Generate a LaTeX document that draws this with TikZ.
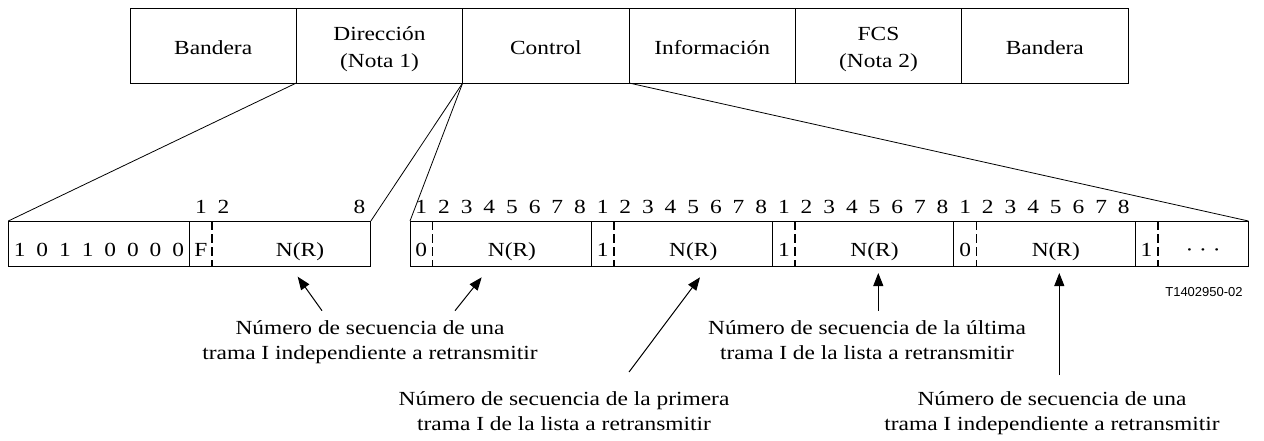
\documentclass[tikz,border=0pt]{standalone}
\usepackage{fontspec}
\setmainfont{Liberation Serif}[FakeStretch=1.17]
\newfontfamily\sanslbl{Liberation Sans}
\usetikzlibrary{arrows.meta}
\newcommand\twoline[3]{{\fontsize{20}{#1}\selectfont\begin{tabular}[t]{@{}c@{}}#2\\#3\end{tabular}}}
\begin{document}
\begin{tikzpicture}[x=1pt,y=-1pt,
  every node/.style={inner sep=0pt,outer sep=0pt,font=\fontsize{20}{25}\selectfont},
  topbox/.style={draw,line width=0.9pt,minimum width=166.33pt,minimum height=75pt},
  blockbox/.style={draw,line width=0.9pt,minimum height=45pt,anchor=north west},
  txt/.style={anchor=base},
  fan/.style={line width=0.8pt},
  solidsep/.style={line width=0.9pt},
  dashsep/.style={line width=1.5pt,dash pattern=on 9pt off 4pt},
  arr/.style={line width=1pt,-{Triangle[length=13pt,width=10pt]}},
  code/.style={anchor=base,font=\sanslbl\fontsize{13}{15}\selectfont}
]
\useasboundingbox (0,0) rectangle (1264,441);

% top frame
\node[topbox] (t1) at (213.17,45.5) {};
\node[topbox] (t2) at (379.50,45.5) {};
\node[topbox] (t3) at (545.83,45.5) {};
\node[topbox] (t4) at (712.17,45.5) {};
\node[topbox] (t5) at (878.50,45.5) {};
\node[topbox] (t6) at (1044.83,45.5) {};
\node[txt] (t1t) at (213.17,55) {Bandera};
\node[txt] (t2t) at (379.50,41) {\twoline{27}{Dirección}{(Nota 1)}};
\node[txt] (t3t) at (545.83,55) {Control};
\node[txt] (t4t) at (712.17,55) {Información};
\node[txt] (t5t) at (878.50,41) {\twoline{27}{FCS}{(Nota 2)}};
\node[txt] (t6t) at (1044.83,55) {Bandera};

% bottom blocks
\node[blockbox,minimum width=362.56pt] (LB) at (8.3,221) {};
\node[blockbox,minimum width=838.42pt] (RB) at (410,221) {};

% fan lines
\draw[fan] (t2.south west) -- (LB.north west);
\draw[fan] (t2.south east) -- (LB.north east);
\draw[fan] (t3.south west) -- (RB.north west);
\draw[fan] (t3.south east) -- (RB.north east);

% left block separators
\draw[solidsep] (189.58,221) -- (189.58,266);
\draw[dashsep] (212.24,221) -- (212.24,266);
% right block separators
\foreach \x in {591.28,772.56,953.84,1135.12}
  \draw[solidsep] (\x,221) -- (\x,266);
\foreach \x in {432.66,613.94,795.22,976.50,1157.78}
  \draw[dashsep] (\x,221) -- (\x,266);

% left block contents
\foreach \t [count=\i from 0] in {1,0,1,1,0,0,0,0}
  \node[txt] (lb\i) at ({19.63+22.66*\i},256) {\t};
\node[txt] (lF) at (200.91,256) {F};
\node[txt] (lNR) at (300,256) {N(R)};
% bit numbers over left block
\node[txt] (ln1) at (200.91,213) {1};
\node[txt] (ln2) at (223.57,213) {2};
\node[txt] (ln8) at (359.53,213) {8};

% right block contents
\node[txt] (r0) at (421.33,256) {0};
\node[txt] (r8) at ({421.33+22.66*8},256) {1};
\node[txt] (r16) at ({421.33+22.66*16},256) {1};
\node[txt] (r24) at ({421.33+22.66*24},256) {0};
\node[txt] (r32) at ({421.33+22.66*32},256) {1};
\node[txt] (rNR1) at ({421.33+22.66*4},256) {N(R)};
\node[txt] (rNR2) at ({421.33+22.66*12},256) {N(R)};
\node[txt] (rNR3) at ({421.33+22.66*20},256) {N(R)};
\node[txt] (rNR4) at ({421.33+22.66*28},256) {N(R)};
\node[txt] (rdots) at ({421.33+22.66*34.5},256) {·\ ·\ ·};
% bit numbers over right block
\foreach \o in {0,1,2,3}
  \foreach \n in {1,...,8}
    \node[txt] (rn\o\n) at ({421.33+22.66*(8*\o+\n-1)},213) {\n};

% code
\node[code] (code) at (1204,296.5) {T1402950-02};

% labels
\node[txt] (L1) at (370,334) {\twoline{25}{Número de secuencia de una}{trama I independiente a retransmitir}};
\node[txt] (L4) at (867,334) {\twoline{25}{Número de secuencia de la última}{trama I de la lista a retransmitir}};
\node[txt] (L3) at (564,405) {\twoline{25}{Número de secuencia de la primera}{trama I de la lista a retransmitir}};
\node[txt] (L5) at (1052,405) {\twoline{25}{Número de secuencia de una}{trama I independiente a retransmitir}};

% arrows
\coordinate (a1s) at (322,310.7);   \coordinate (a1e) at (297.7,276.7);
\coordinate (a2s) at (455,310.7);   \coordinate (a2e) at (481.7,277.3);
\coordinate (a3s) at (629,372);     \coordinate (a3e) at (700,277.3);
\coordinate (a4s) at (878.3,310.7); \coordinate (a4e) at (878.3,273);
\coordinate (a5s) at (1059.3,375);  \coordinate (a5e) at (1059.3,273);
\draw[arr] (a1s) -- (a1e);
\draw[arr] (a2s) -- (a2e);
\draw[arr] (a3s) -- (a3e);
\draw[arr] (a4s) -- (a4e);
\draw[arr] (a5s) -- (a5e);
\end{tikzpicture}
\end{document}
